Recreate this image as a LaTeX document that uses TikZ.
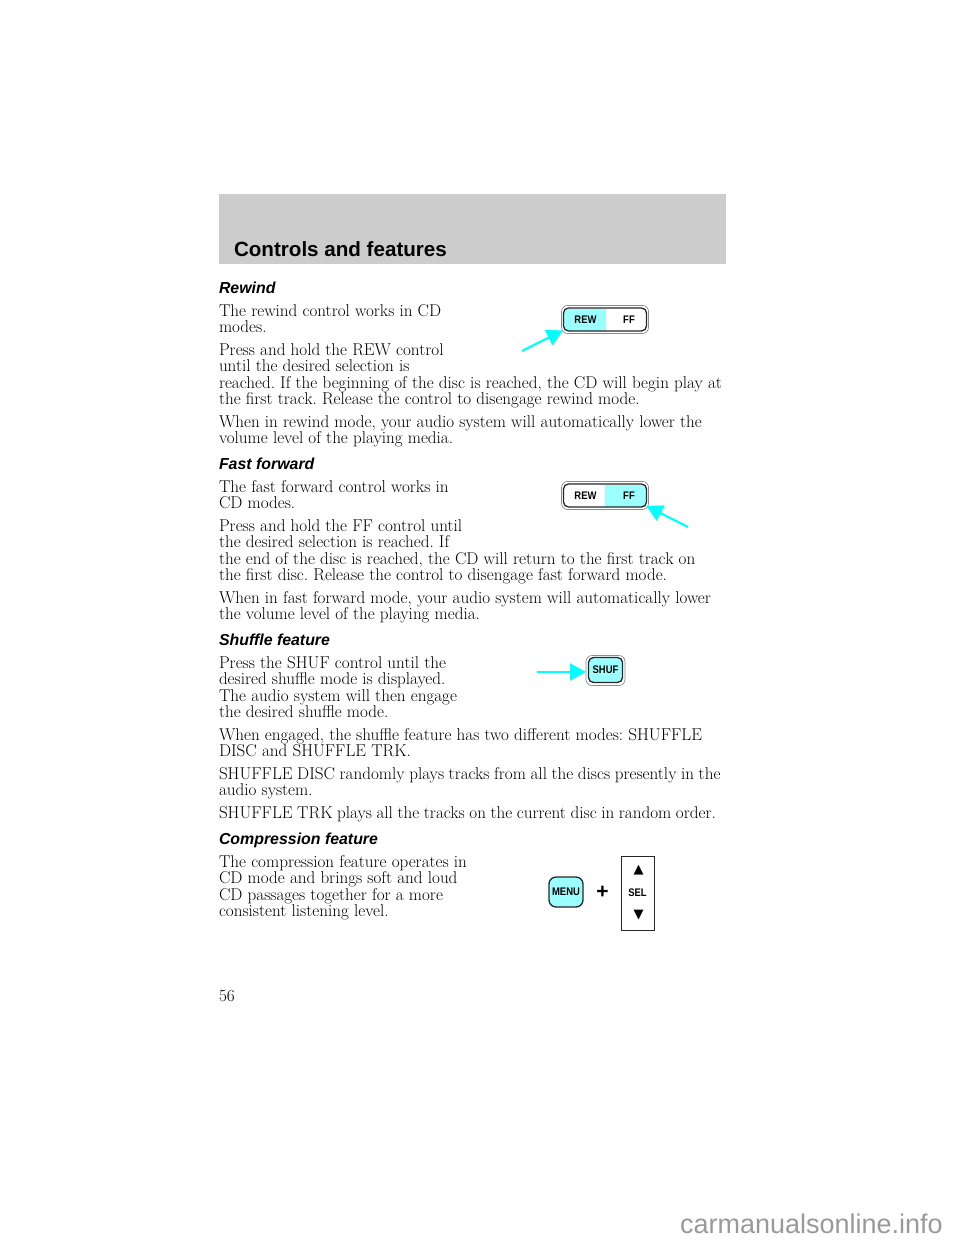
\documentclass[tikz,border=0pt]{standalone}
\usepackage{fontspec}
\setsansfont{Liberation Sans}
\newfontfamily\keyfont[FakeStretch=0.86]{Liberation Sans}
\usepackage{tikz}
\usetikzlibrary{arrows.meta,positioning}
\definecolor{bandgray}{HTML}{CCCCCC}
\definecolor{lightcyan}{HTML}{9CFFFF}
\definecolor{arrowcyan}{HTML}{00FFFF}
\definecolor{markgray}{HTML}{999999}
\newcommand{\bodysize}{\fontsize{17.1}{16.4}\selectfont\frenchspacing}
\begin{document}
\begin{tikzpicture}[x=1pt,y=-1pt,
  every node/.append style={inner sep=0pt,outer sep=0pt},
  para/.style={anchor=north west,align=left,font=\bodysize},
  headline/.style={anchor=base west,font=\fontsize{15.9}{18}\selectfont\sffamily\bfseries\itshape},
  keylabel/.style={font=\fontsize{11}{12}\selectfont\keyfont\bfseries},
  pointer/.style={draw=arrowcyan,line width=2.2pt,-{Triangle[length=16pt,width=17pt]}},
  keyframe/.style={draw=black!45,line width=.7pt,rounded corners=6pt},
  keyedge/.style={draw=black!85,line width=1.3pt,rounded corners=5pt}]
  \useasboundingbox (0,0) rectangle (960,1242);
  \fill[bandgray] (219,194) rectangle (726,264);
  \node (title) [anchor=base west,font=\fontsize{20.6}{24}\selectfont\sffamily\bfseries] at (234,256) {Controls and features};

  % rewind
  \node (h_rew) [headline] at (219,293) {Rewind};
  \node (p_rew1) [para] at (219,304.5) {The rewind control works in CD\\modes.};
  \node (p_rew2) [para] at (219,343.5) {Press and hold the REW control\\until the desired selection is\\reached. If the beginning of the disc is reached, the CD will begin play at\\the first track. Release the control to disengage rewind mode.};
  \node (p_rew3) [para] at (219,415.5) {When in rewind mode, your audio system will automatically lower the\\volume level of the playing media.};

  % fast forward
  \node (h_ff) [headline] at (219,469) {Fast forward};
  \node (p_ff1) [para] at (219,480.5) {The fast forward control works in\\CD modes.};
  \node (p_ff2) [para] at (219,519.5) {Press and hold the FF control until\\the desired selection is reached. If\\the end of the disc is reached, the CD will return to the first track on\\the first disc. Release the control to disengage fast forward mode.};
  \node (p_ff3) [para] at (219,591.5) {When in fast forward mode, your audio system will automatically lower\\the volume level of the playing media.};

  % shuffle
  \node (h_shuf) [headline] at (219,645) {Shuffle feature};
  \node (p_shuf1) [para] at (219,656.5) {Press the SHUF control until the\\desired shuffle mode is displayed.\\The audio system will then engage\\the desired shuffle mode.};
  \node (p_shuf2) [para] at (219,728.5) {When engaged, the shuffle feature has two different modes: SHUFFLE\\DISC and SHUFFLE TRK.};
  \node (p_shuf3) [para] at (219,767.5) {\spaceskip=4.6pt SHUFFLE DISC randomly plays tracks from all the discs presently in the\\audio system.};
  \node (p_shuf4) [para] at (219,806.5) {\spaceskip=4.6pt SHUFFLE TRK plays all the tracks on the current disc in random order.};

  % compression
  \node (h_comp) [headline] at (219,844) {Compression feature};
  \node (p_comp1) [para] at (219,855.5) {The compression feature operates in\\CD mode and brings soft and loud\\CD passages together for a more\\consistent listening level.};

  \node (pageno) [para] at (219,990.5) {56};

  % REW key
  \fill[lightcyan] (606,309) [rounded corners=5pt] -- (564,309) -- (564,331) [sharp corners] -- (606,331) -- cycle;
  \node (rew_frame) [keyframe,minimum width=87pt,minimum height=28pt] at (605,319.5) {};
  \node (rew_edge) [keyedge,minimum width=83pt,minimum height=23pt] at (605,319.5) {};
  \node (rew_1) [keylabel] at (585.5,319.5) {REW};
  \node (rew_2) [keylabel] at (629,319.5) {FF};
  \coordinate (rew_tail) at (522,351);
  \draw[pointer] (rew_tail) -- ([shift={(1.5,-3)}]rew_frame.south west);

  % FF key
  \fill[lightcyan] (605,485) [rounded corners=5pt] -- (646,485) -- (646,507) [sharp corners] -- (605,507) -- cycle;
  \node (ff_frame) [keyframe,minimum width=87pt,minimum height=28pt] at (605,495.5) {};
  \node (ff_edge) [keyedge,minimum width=83pt,minimum height=23pt] at (605,495.5) {};
  \node (ff_1) [keylabel] at (585.5,495.5) {REW};
  \node (ff_2) [keylabel] at (629,495.5) {FF};
  \coordinate (ff_tail) at (688,527);
  \draw[pointer] (ff_tail) -- ([shift={(-2,-3.5)}]ff_frame.south east);

  % SHUF key
  \node (shuf_frame) [keyframe,minimum width=39pt,minimum height=30pt] at (605.5,670.5) {};
  \node (shuf_key) [keyedge,fill=lightcyan,minimum width=34pt,minimum height=25pt,keylabel] at (605.5,670) {SHUF};
  \coordinate (shuf_tail) at (537,672);
  \draw[pointer] (shuf_tail) -- (shuf_frame.west |- shuf_tail);

  % MENU + SEL
  \node (menu_key) [keyedge,rounded corners=7pt,fill=lightcyan,minimum width=34pt,minimum height=30pt,keylabel] at (566,892) {MENU};
  \node (plus) [font=\fontsize{21}{22}\selectfont\sffamily\bfseries] at (602.5,892) {+};
  \node (sel_box) [draw=black!85,line width=1pt,minimum width=33pt,minimum height=74pt,keylabel] at (637.5,893) {SEL};
  \node (sel_up) [font=\fontsize{13}{14}\selectfont] at (638.5,870) {\fontspec{DejaVu Sans}▲};
  \node (sel_down) [font=\fontsize{13}{14}\selectfont] at (638.5,915) {\fontspec{DejaVu Sans}▼};

  \node (watermark) [anchor=base west,text=markgray,font=\fontsize{27}{28}\selectfont\sffamily] at (680,1233) {carmanualsonline.info};
\end{tikzpicture}
\end{document}
